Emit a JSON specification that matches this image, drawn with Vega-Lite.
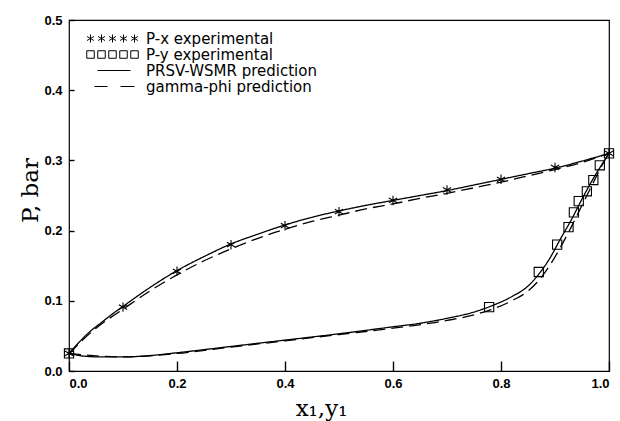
{
  "$schema": "https://vega.github.io/schema/vega-lite/v6.json",
  "width": 540,
  "height": 351,
  "autosize": "none",
  "padding": {"left": 69, "top": 20, "right": 11, "bottom": 50},
  "background": "white",
  "config": {
    "view": {"stroke": "black", "strokeWidth": 1.2},
    "axis": {"grid": false, "zindex": 1, "domain": false, "ticks": true, "tickOpacity": 1, "tickColor": "#000000", "tickWidth": 1.4, "labelColor": "black", "titleColor": "black", "labelFont": "Liberation Sans", "labelFontWeight": "bold", "labelFontSize": 13, "titleFont": "DejaVu Serif", "titleFontSize": 23, "titleFontWeight": "normal"}
  },
  "datasets": {
    "curves": [
      {"series": "PRSV-WSMR prediction", "curve": "bubble", "x": 0, "P": 0.025},
      {"series": "PRSV-WSMR prediction", "curve": "bubble", "x": 0.02, "P": 0.042},
      {"series": "PRSV-WSMR prediction", "curve": "bubble", "x": 0.04, "P": 0.057},
      {"series": "PRSV-WSMR prediction", "curve": "bubble", "x": 0.06, "P": 0.069},
      {"series": "PRSV-WSMR prediction", "curve": "bubble", "x": 0.08, "P": 0.081},
      {"series": "PRSV-WSMR prediction", "curve": "bubble", "x": 0.1, "P": 0.092},
      {"series": "PRSV-WSMR prediction", "curve": "bubble", "x": 0.15, "P": 0.119},
      {"series": "PRSV-WSMR prediction", "curve": "bubble", "x": 0.2, "P": 0.143},
      {"series": "PRSV-WSMR prediction", "curve": "bubble", "x": 0.25, "P": 0.163},
      {"series": "PRSV-WSMR prediction", "curve": "bubble", "x": 0.3, "P": 0.181},
      {"series": "PRSV-WSMR prediction", "curve": "bubble", "x": 0.35, "P": 0.195},
      {"series": "PRSV-WSMR prediction", "curve": "bubble", "x": 0.4, "P": 0.208},
      {"series": "PRSV-WSMR prediction", "curve": "bubble", "x": 0.45, "P": 0.219},
      {"series": "PRSV-WSMR prediction", "curve": "bubble", "x": 0.5, "P": 0.228},
      {"series": "PRSV-WSMR prediction", "curve": "bubble", "x": 0.55, "P": 0.236},
      {"series": "PRSV-WSMR prediction", "curve": "bubble", "x": 0.6, "P": 0.243},
      {"series": "PRSV-WSMR prediction", "curve": "bubble", "x": 0.65, "P": 0.25},
      {"series": "PRSV-WSMR prediction", "curve": "bubble", "x": 0.7, "P": 0.257},
      {"series": "PRSV-WSMR prediction", "curve": "bubble", "x": 0.75, "P": 0.265},
      {"series": "PRSV-WSMR prediction", "curve": "bubble", "x": 0.8, "P": 0.273},
      {"series": "PRSV-WSMR prediction", "curve": "bubble", "x": 0.85, "P": 0.281},
      {"series": "PRSV-WSMR prediction", "curve": "bubble", "x": 0.9, "P": 0.289},
      {"series": "PRSV-WSMR prediction", "curve": "bubble", "x": 0.95, "P": 0.299},
      {"series": "PRSV-WSMR prediction", "curve": "bubble", "x": 1.0, "P": 0.31},
      {"series": "gamma-phi prediction", "curve": "bubble", "x": 0, "P": 0.025},
      {"series": "gamma-phi prediction", "curve": "bubble", "x": 0.05, "P": 0.061},
      {"series": "gamma-phi prediction", "curve": "bubble", "x": 0.1, "P": 0.088},
      {"series": "gamma-phi prediction", "curve": "bubble", "x": 0.15, "P": 0.114},
      {"series": "gamma-phi prediction", "curve": "bubble", "x": 0.2, "P": 0.137},
      {"series": "gamma-phi prediction", "curve": "bubble", "x": 0.25, "P": 0.157},
      {"series": "gamma-phi prediction", "curve": "bubble", "x": 0.3, "P": 0.174},
      {"series": "gamma-phi prediction", "curve": "bubble", "x": 0.35, "P": 0.189},
      {"series": "gamma-phi prediction", "curve": "bubble", "x": 0.4, "P": 0.202},
      {"series": "gamma-phi prediction", "curve": "bubble", "x": 0.45, "P": 0.213},
      {"series": "gamma-phi prediction", "curve": "bubble", "x": 0.5, "P": 0.222},
      {"series": "gamma-phi prediction", "curve": "bubble", "x": 0.55, "P": 0.231},
      {"series": "gamma-phi prediction", "curve": "bubble", "x": 0.6, "P": 0.238},
      {"series": "gamma-phi prediction", "curve": "bubble", "x": 0.65, "P": 0.246},
      {"series": "gamma-phi prediction", "curve": "bubble", "x": 0.7, "P": 0.253},
      {"series": "gamma-phi prediction", "curve": "bubble", "x": 0.75, "P": 0.261},
      {"series": "gamma-phi prediction", "curve": "bubble", "x": 0.8, "P": 0.269},
      {"series": "gamma-phi prediction", "curve": "bubble", "x": 0.85, "P": 0.278},
      {"series": "gamma-phi prediction", "curve": "bubble", "x": 0.9, "P": 0.287},
      {"series": "gamma-phi prediction", "curve": "bubble", "x": 0.95, "P": 0.297},
      {"series": "gamma-phi prediction", "curve": "bubble", "x": 1.0, "P": 0.31},
      {"series": "PRSV-WSMR prediction", "curve": "dew", "x": 0, "P": 0.025},
      {"series": "PRSV-WSMR prediction", "curve": "dew", "x": 0.03, "P": 0.021},
      {"series": "PRSV-WSMR prediction", "curve": "dew", "x": 0.06, "P": 0.02},
      {"series": "PRSV-WSMR prediction", "curve": "dew", "x": 0.1, "P": 0.02},
      {"series": "PRSV-WSMR prediction", "curve": "dew", "x": 0.15, "P": 0.022},
      {"series": "PRSV-WSMR prediction", "curve": "dew", "x": 0.2, "P": 0.026},
      {"series": "PRSV-WSMR prediction", "curve": "dew", "x": 0.3, "P": 0.035},
      {"series": "PRSV-WSMR prediction", "curve": "dew", "x": 0.4, "P": 0.044},
      {"series": "PRSV-WSMR prediction", "curve": "dew", "x": 0.5, "P": 0.053},
      {"series": "PRSV-WSMR prediction", "curve": "dew", "x": 0.6, "P": 0.063},
      {"series": "PRSV-WSMR prediction", "curve": "dew", "x": 0.65, "P": 0.068},
      {"series": "PRSV-WSMR prediction", "curve": "dew", "x": 0.7, "P": 0.075},
      {"series": "PRSV-WSMR prediction", "curve": "dew", "x": 0.75, "P": 0.084},
      {"series": "PRSV-WSMR prediction", "curve": "dew", "x": 0.78, "P": 0.092},
      {"series": "PRSV-WSMR prediction", "curve": "dew", "x": 0.82, "P": 0.106},
      {"series": "PRSV-WSMR prediction", "curve": "dew", "x": 0.85, "P": 0.121},
      {"series": "PRSV-WSMR prediction", "curve": "dew", "x": 0.87, "P": 0.138},
      {"series": "PRSV-WSMR prediction", "curve": "dew", "x": 0.89, "P": 0.16},
      {"series": "PRSV-WSMR prediction", "curve": "dew", "x": 0.91, "P": 0.188},
      {"series": "PRSV-WSMR prediction", "curve": "dew", "x": 0.93, "P": 0.215},
      {"series": "PRSV-WSMR prediction", "curve": "dew", "x": 0.95, "P": 0.245},
      {"series": "PRSV-WSMR prediction", "curve": "dew", "x": 0.97, "P": 0.273},
      {"series": "PRSV-WSMR prediction", "curve": "dew", "x": 0.99, "P": 0.298},
      {"series": "PRSV-WSMR prediction", "curve": "dew", "x": 1.0, "P": 0.31},
      {"series": "gamma-phi prediction", "curve": "dew", "x": 0, "P": 0.025},
      {"series": "gamma-phi prediction", "curve": "dew", "x": 0.1, "P": 0.02},
      {"series": "gamma-phi prediction", "curve": "dew", "x": 0.2, "P": 0.025},
      {"series": "gamma-phi prediction", "curve": "dew", "x": 0.3, "P": 0.034},
      {"series": "gamma-phi prediction", "curve": "dew", "x": 0.4, "P": 0.043},
      {"series": "gamma-phi prediction", "curve": "dew", "x": 0.5, "P": 0.052},
      {"series": "gamma-phi prediction", "curve": "dew", "x": 0.6, "P": 0.061},
      {"series": "gamma-phi prediction", "curve": "dew", "x": 0.7, "P": 0.072},
      {"series": "gamma-phi prediction", "curve": "dew", "x": 0.75, "P": 0.08},
      {"series": "gamma-phi prediction", "curve": "dew", "x": 0.78, "P": 0.087},
      {"series": "gamma-phi prediction", "curve": "dew", "x": 0.82, "P": 0.1},
      {"series": "gamma-phi prediction", "curve": "dew", "x": 0.85, "P": 0.114},
      {"series": "gamma-phi prediction", "curve": "dew", "x": 0.87, "P": 0.129},
      {"series": "gamma-phi prediction", "curve": "dew", "x": 0.89, "P": 0.15},
      {"series": "gamma-phi prediction", "curve": "dew", "x": 0.91, "P": 0.176},
      {"series": "gamma-phi prediction", "curve": "dew", "x": 0.93, "P": 0.205},
      {"series": "gamma-phi prediction", "curve": "dew", "x": 0.95, "P": 0.236},
      {"series": "gamma-phi prediction", "curve": "dew", "x": 0.97, "P": 0.267},
      {"series": "gamma-phi prediction", "curve": "dew", "x": 0.99, "P": 0.297},
      {"series": "gamma-phi prediction", "curve": "dew", "x": 1.0, "P": 0.31}
    ],
    "points": [
      {"series": "P-x experimental", "x": 0, "P": 0.025},
      {"series": "P-x experimental", "x": 0.1, "P": 0.091},
      {"series": "P-x experimental", "x": 0.2, "P": 0.142},
      {"series": "P-x experimental", "x": 0.3, "P": 0.18},
      {"series": "P-x experimental", "x": 0.4, "P": 0.207},
      {"series": "P-x experimental", "x": 0.5, "P": 0.227},
      {"series": "P-x experimental", "x": 0.6, "P": 0.243},
      {"series": "P-x experimental", "x": 0.7, "P": 0.258},
      {"series": "P-x experimental", "x": 0.8, "P": 0.273},
      {"series": "P-x experimental", "x": 0.9, "P": 0.29},
      {"series": "P-x experimental", "x": 1.0, "P": 0.31},
      {"series": "P-y experimental", "x": 0, "P": 0.025},
      {"series": "P-y experimental", "x": 0.778, "P": 0.091},
      {"series": "P-y experimental", "x": 0.87, "P": 0.141},
      {"series": "P-y experimental", "x": 0.904, "P": 0.18},
      {"series": "P-y experimental", "x": 0.925, "P": 0.205},
      {"series": "P-y experimental", "x": 0.935, "P": 0.226},
      {"series": "P-y experimental", "x": 0.944, "P": 0.242},
      {"series": "P-y experimental", "x": 0.959, "P": 0.256},
      {"series": "P-y experimental", "x": 0.971, "P": 0.272},
      {"series": "P-y experimental", "x": 0.983, "P": 0.293},
      {"series": "P-y experimental", "x": 1.0, "P": 0.31}
    ]
  },
  "encoding": {
    "x": {"field": "x", "type": "quantitative", "scale": {"domain": [0, 1], "nice": false},
      "axis": {"title": "x₁,y₁", "values": [0, 0.2, 0.4, 0.6, 0.8, 1.0], "format": ".1f", "offset": -10, "tickSize": 10, "labelPadding": 6, "titleX": 252, "titleY": 47, "titleBaseline": "middle", "titleAlign": "center"}},
    "y": {"field": "P", "type": "quantitative", "scale": {"domain": [0, 0.5], "nice": false},
      "axis": {"title": "P, bar", "values": [0, 0.1, 0.2, 0.3, 0.4, 0.5], "format": ".1f", "offset": -5, "tickSize": 5, "labelPadding": 7, "titleX": -44, "titleY": 170, "titleBaseline": "middle", "titleAlign": "center", "titleAngle": 270}}
  },
  "layer": [
    {
      "data": {"name": "curves"},
      "mark": {"type": "line", "color": "black", "strokeWidth": 1.3, "interpolate": "monotone"},
      "encoding": {
        "detail": {"field": "curve"},
        "strokeDash": {"field": "series", "type": "nominal", "scale": {"domain": ["PRSV-WSMR prediction", "gamma-phi prediction"], "range": [[1, 0], [12, 6]]}, "legend": null}
      }
    },
    {
      "data": {"name": "points"},
      "transform": [{"filter": "datum.series === 'P-x experimental'"}],
      "mark": {"type": "point", "shape": "M0,-1V1M-0.87,-0.5L0.87,0.5M-0.87,0.5L0.87,-0.5", "filled": false, "color": "black", "strokeWidth": 1.1, "size": 90, "opacity": 1}
    },
    {
      "data": {"name": "points"},
      "transform": [{"filter": "datum.series === 'P-y experimental'"}],
      "mark": {"type": "point", "shape": "square", "filled": false, "color": "black", "strokeWidth": 1.1, "size": 85, "opacity": 1}
    },
    {
      "data": {"name": "points"},
      "transform": [{"filter": "false"}],
      "mark": {"type": "point", "filled": false, "color": "black", "strokeWidth": 1, "size": 100, "opacity": 1},
      "encoding": {
        "shape": {"field": "series", "type": "nominal",
          "scale": {"domain": ["P-x experimental", "P-y experimental", "PRSV-WSMR prediction", "gamma-phi prediction"],
            "range": [
              "M-4.4,-0.8V0.8M-5.09,-0.4L-3.71,0.4M-5.09,0.4L-3.71,-0.4M-2.2,-0.8V0.8M-2.89,-0.4L-1.51,0.4M-2.89,0.4L-1.51,-0.4M0,-0.8V0.8M-0.69,-0.4L0.69,0.4M-0.69,0.4L0.69,-0.4M2.2,-0.8V0.8M1.51,-0.4L2.89,0.4M1.51,0.4L2.89,-0.4M4.4,-0.8V0.8M3.71,-0.4L5.09,0.4M3.71,0.4L5.09,-0.4",
              "M-5.15,-0.75h1.5v1.5h-1.5zM-2.95,-0.75h1.5v1.5h-1.5zM-0.75,-0.75h1.5v1.5h-1.5zM1.45,-0.75h1.5v1.5h-1.5zM3.65,-0.75h1.5v1.5h-1.5z",
              "M-3,0H3.6",
              "M-3.6,0H-1M1.6,0H4.4"
            ]},
          "legend": {
            "title": null, "orient": "none", "legendX": 36, "legendY": 11, "padding": 0,
            "symbolSize": 100, "symbolStrokeColor": "black", "symbolFillColor": "transparent", "symbolStrokeWidth": 1,
            "labelFont": "DejaVu Sans", "labelFontSize": 15, "labelColor": "black", "labelOffset": 26, "labelLimit": 400, "rowPadding": -3.3, "symbolOffset": 0
          }
        }
      }
    }
  ]
}
